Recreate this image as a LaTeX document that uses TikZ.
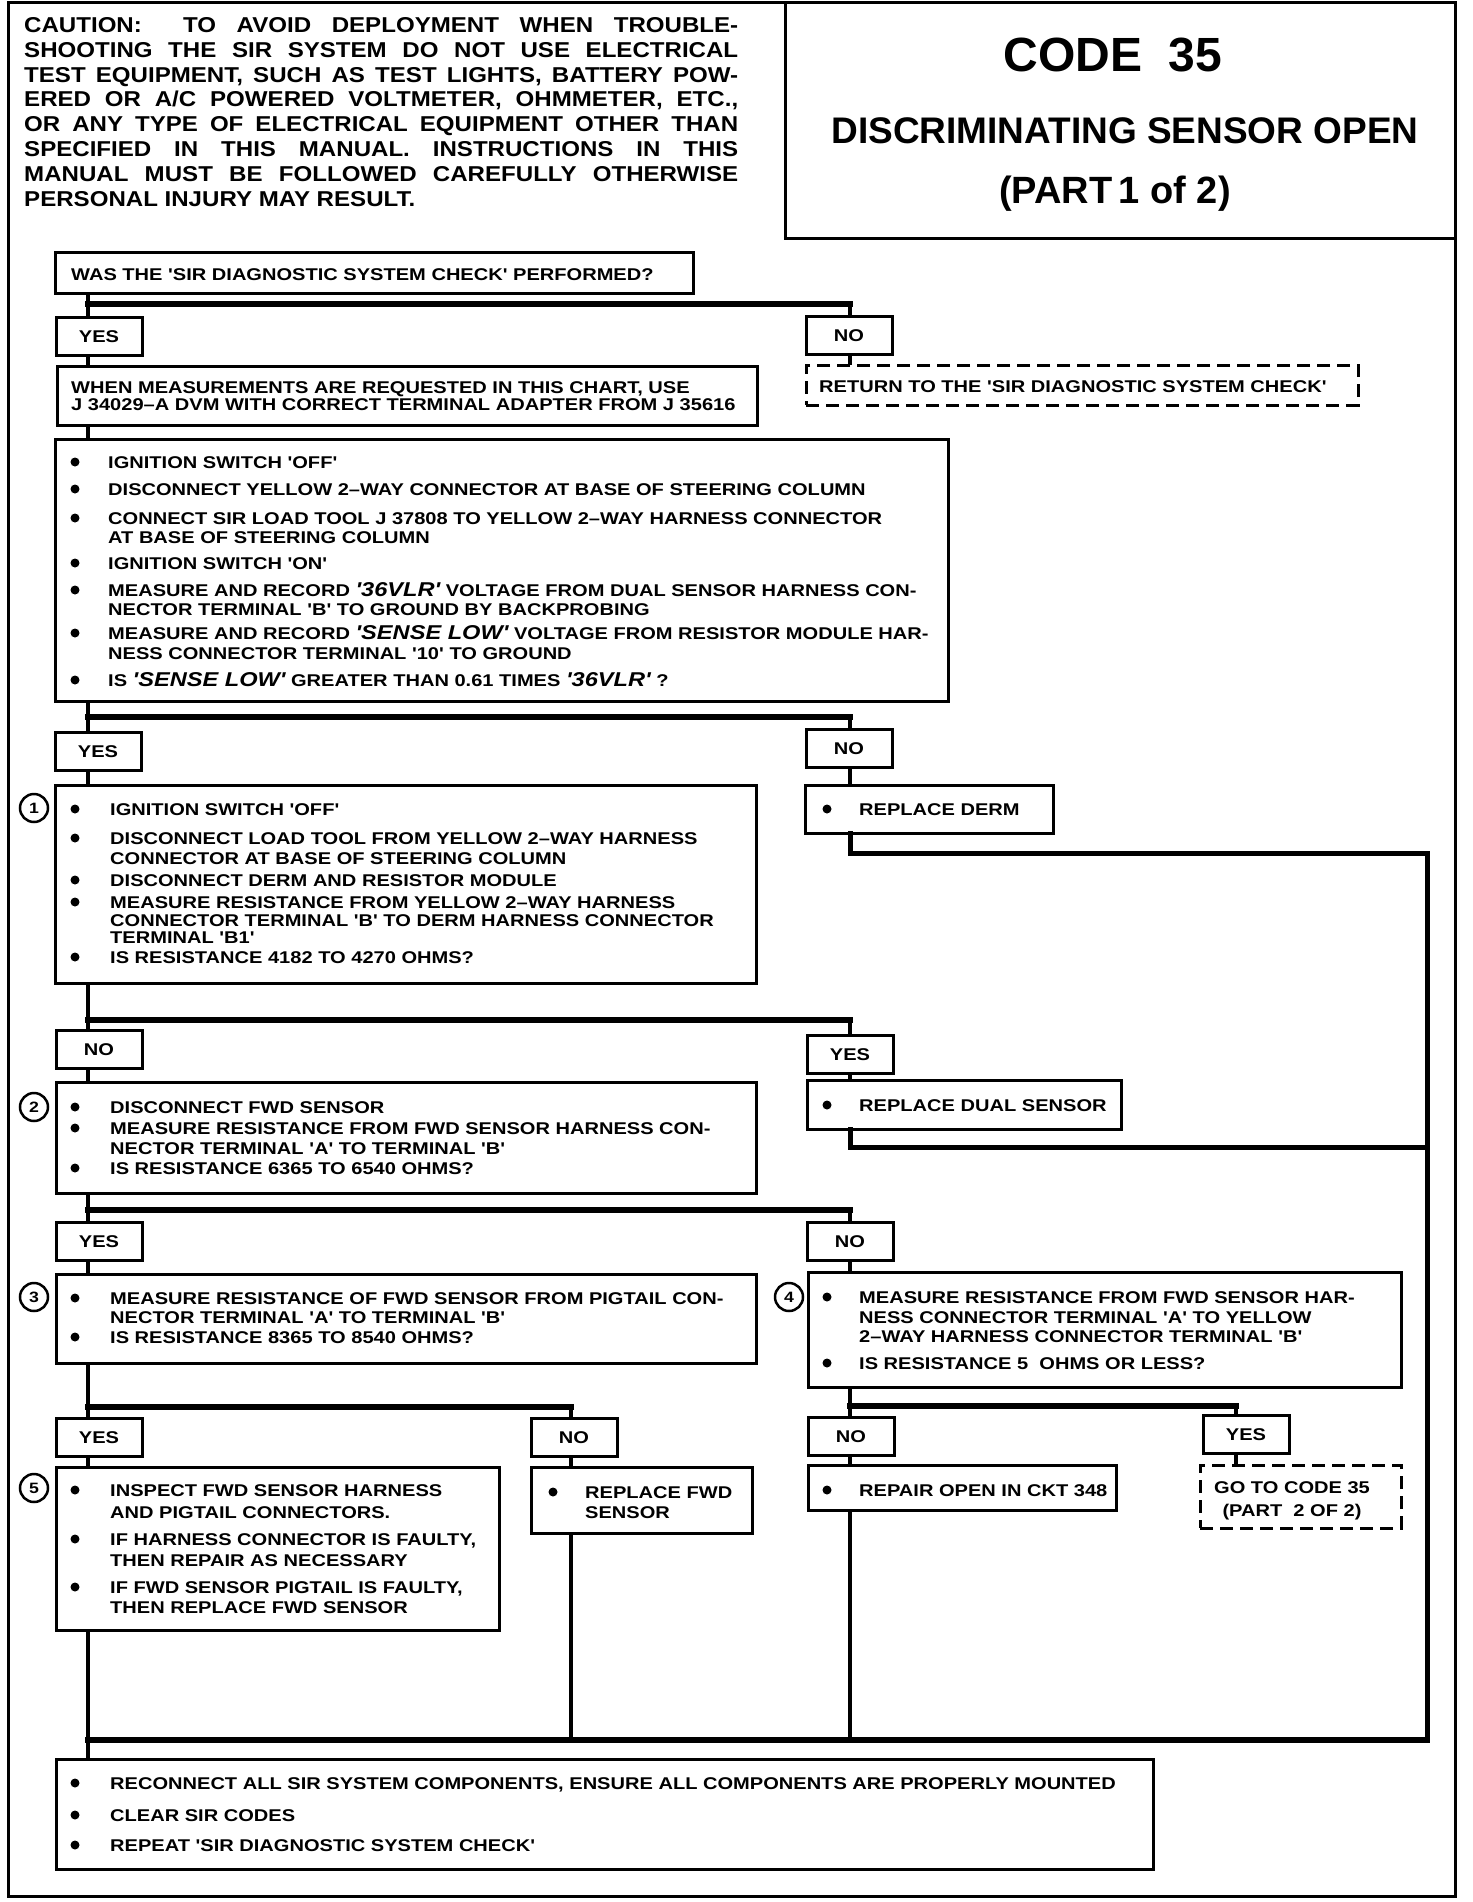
\documentclass[tikz,border=0pt]{standalone}
\usepackage{fontspec}
\setmainfont{Liberation Sans}
\newfontfamily\flowfont{Liberation Sans}[FakeStretch=1.18]
\newfontfamily\cautfont{Liberation Sans}[FakeStretch=1.12]
\newcommand\flowtxt{\flowfont\bfseries\fontsize{17}{20}\selectfont}
\newcommand\cauttxt{\cautfont\bfseries\fontsize{21.5}{24.9}\selectfont}
\newcommand\hl[1]{{\flowfont\bfseries\itshape\fontsize{20}{20}\selectfont #1}}
\newcommand\jl[1]{\makebox[714pt][s]{#1}}
\tikzset{
  box/.style={draw, line width=3pt, anchor=north west, inner sep=0pt, outer sep=0pt},
  dbox/.style={box, dash pattern=on 13pt off 7pt},
  ans/.style={box, minimum width=86pt, minimum height=38pt, font=\flowtxt, text height=12pt, text depth=0pt},
  txt/.style={font=\flowtxt, inner sep=0pt, anchor=west, text height=12pt, text depth=0pt},
  num/.style={circle, draw, line width=2.5pt, minimum size=28pt, inner sep=0pt, font=\flowfont\bfseries\fontsize{15}{15}\selectfont},
  stem/.style={line width=4pt},
  back/.style={line width=5pt, line cap=rect},
  bar/.style={line width=6pt, line cap=rect},
}
\begin{document}
\begin{tikzpicture}[x=1pt, y=-1pt]
\useasboundingbox (0,0) rectangle (1472,1902);
\node[box, minimum width=1447pt, minimum height=1893pt] (frame) at (8,3){};
\node[box, minimum width=670pt, minimum height=236pt] (head) at (785,3){};
\node[font=\cauttxt, inner sep=0pt, anchor=north west, align=left] (caution) at (24,17){%
\jl{CAUTION:\ \ TO AVOID DEPLOYMENT WHEN TROUBLE-}\\
\jl{SHOOTING THE SIR SYSTEM DO NOT USE ELECTRICAL}\\
\jl{TEST EQUIPMENT, SUCH AS TEST LIGHTS, BATTERY POW-}\\
\jl{ERED OR A/C POWERED VOLTMETER, OHMMETER, ETC.,}\\
\jl{OR ANY TYPE OF ELECTRICAL EQUIPMENT OTHER THAN}\\
\jl{SPECIFIED IN THIS MANUAL. INSTRUCTIONS IN THIS}\\
\jl{MANUAL MUST BE FOLLOWED CAREFULLY OTHERWISE}\\
PERSONAL INJURY MAY RESULT.};
\node[font=\bfseries\fontsize{48}{48}\selectfont, inner sep=0pt, text height=34pt, text depth=0pt] (code) at (1113,55){CODE\ \ 35};
\node[font=\bfseries\fontsize{37}{37}\selectfont, inner sep=0pt, text height=26.5pt, text depth=0pt] (disc) at (1125,130){DISCRIMINATING SENSOR OPEN};
\node[font=\bfseries\fontsize{38}{38}\selectfont, inner sep=0pt, text height=27pt, text depth=0pt] (part) at (1115,190){(PART\,1 of 2)};
\coordinate (lc) at (88,0);
\coordinate (mc) at (571,0);
\coordinate (rc) at (850,0);
\coordinate (fc) at (1236,0);
\node[box, minimum width=638pt, minimum height=40pt] (was) at (55,253){};
\node[txt] (wast) at (71,274){WAS THE 'SIR DIAGNOSTIC SYSTEM CHECK' PERFORMED?};
\node[ans] (yes1) at (56,317){YES};
\node[ans] (no1) at (806,316){NO};
\node[box, minimum width=700pt, minimum height=59pt] (when) at (57,366){};
\node[txt] (when1) at (71,387){WHEN MEASUREMENTS ARE REQUESTED IN THIS CHART, USE};
\node[txt] (when2) at (71,404){J 34029–A DVM WITH CORRECT TERMINAL ADAPTER FROM J 35616};
\node[dbox, minimum width=552pt, minimum height=40pt] (ret) at (806,365){};
\node[txt] (rett) at (819,386){RETURN TO THE 'SIR DIAGNOSTIC SYSTEM CHECK'};
\node[box, minimum width=893pt, minimum height=262pt] (ign) at (55,439){};
\node[txt] (ig1) at (108,462){IGNITION SWITCH 'OFF'};
\node[txt] (ig2) at (108,489){DISCONNECT YELLOW 2–WAY CONNECTOR AT BASE OF STEERING COLUMN};
\node[txt] (ig3) at (108,518){CONNECT SIR LOAD TOOL J 37808 TO YELLOW 2–WAY HARNESS CONNECTOR};
\node[txt] (ig4) at (108,537){AT BASE OF STEERING COLUMN};
\node[txt] (ig5) at (108,563){IGNITION SWITCH 'ON'};
\node[txt] (ig6) at (108,590){MEASURE AND RECORD \hl{'36VLR'} VOLTAGE FROM DUAL SENSOR HARNESS CON-};
\node[txt] (ig7) at (108,609){NECTOR TERMINAL 'B' TO GROUND BY BACKPROBING};
\node[txt] (ig8) at (108,633){MEASURE AND RECORD \hl{'SENSE LOW'} VOLTAGE FROM RESISTOR MODULE HAR-};
\node[txt] (ig9) at (108,653){NESS CONNECTOR TERMINAL '10' TO GROUND};
\node[txt] (ig10) at (108,680){IS \hl{'SENSE LOW'} GREATER THAN 0.61 TIMES \hl{'36VLR'} ?};
\foreach \y in {462,489,518,563,590,633,680} \fill (75,\y) circle[radius=4.5pt];
\node[ans] (yes2) at (55,732){YES};
\node[ans] (no2) at (806,729){NO};
\node[box, minimum width=701pt, minimum height=198pt] (b1) at (55,785){};
\node[num] (n1) at (34,808){1};
\node[txt] (b1a) at (110,809){IGNITION SWITCH 'OFF'};
\node[txt] (b1b) at (110,838){DISCONNECT LOAD TOOL FROM YELLOW 2–WAY HARNESS};
\node[txt] (b1c) at (110,858){CONNECTOR AT BASE OF STEERING COLUMN};
\node[txt] (b1d) at (110,880){DISCONNECT DERM AND RESISTOR MODULE};
\node[txt] (b1e) at (110,902){MEASURE RESISTANCE FROM YELLOW 2–WAY HARNESS};
\node[txt] (b1f) at (110,920){CONNECTOR TERMINAL 'B' TO DERM HARNESS CONNECTOR};
\node[txt] (b1g) at (110,937){TERMINAL 'B1'};
\node[txt] (b1h) at (110,957){IS RESISTANCE 4182 TO 4270 OHMS?};
\foreach \y in {809,838,880,902,957} \fill (75,\y) circle[radius=4.5pt];
\node[box, minimum width=248pt, minimum height=48pt] (derm) at (805,785){};
\node[txt] (dermt) at (859,809){REPLACE DERM};
\fill (827,809) circle[radius=4.5pt];
\node[ans] (no3) at (56,1030){NO};
\node[ans] (yes3) at (807,1035){YES};
\node[box, minimum width=700pt, minimum height=111pt] (b2) at (56,1082){};
\node[num] (n2) at (34,1107){2};
\node[txt] (b2a) at (110,1107){DISCONNECT FWD SENSOR};
\node[txt] (b2b) at (110,1128){MEASURE RESISTANCE FROM FWD SENSOR HARNESS CON-};
\node[txt] (b2c) at (110,1148){NECTOR TERMINAL 'A' TO TERMINAL 'B'};
\node[txt] (b2d) at (110,1168){IS RESISTANCE 6365 TO 6540 OHMS?};
\foreach \y in {1107,1128,1168} \fill (75,\y) circle[radius=4.5pt];
\node[box, minimum width=314pt, minimum height=49pt] (dual) at (807,1080){};
\node[txt] (dualt) at (859,1105){REPLACE DUAL SENSOR};
\fill (827,1105) circle[radius=4.5pt];
\node[ans] (yes4) at (56,1222){YES};
\node[ans] (no4) at (807,1222){NO};
\node[box, minimum width=700pt, minimum height=89pt] (b3) at (56,1274){};
\node[num] (n3) at (34,1297){3};
\node[txt] (b3a) at (110,1298){MEASURE RESISTANCE OF FWD SENSOR FROM PIGTAIL CON-};
\node[txt] (b3b) at (110,1317){NECTOR TERMINAL 'A' TO TERMINAL 'B'};
\node[txt] (b3c) at (110,1337){IS RESISTANCE 8365 TO 8540 OHMS?};
\foreach \y in {1298,1337} \fill (75,\y) circle[radius=4.5pt];
\node[box, minimum width=593pt, minimum height=115pt] (b4) at (808,1272){};
\node[num] (n4) at (789,1297){4};
\node[txt] (b4a) at (859,1297){MEASURE RESISTANCE FROM FWD SENSOR HAR-};
\node[txt] (b4b) at (859,1317){NESS CONNECTOR TERMINAL 'A' TO YELLOW};
\node[txt] (b4c) at (859,1336){2–WAY HARNESS CONNECTOR TERMINAL 'B'};
\node[txt] (b4d) at (859,1363){IS RESISTANCE 5\ \ OHMS OR LESS?};
\foreach \y in {1297,1363} \fill (827,\y) circle[radius=4.5pt];
\node[ans] (yes5) at (56,1418){YES};
\node[ans] (no5) at (531,1418){NO};
\node[ans] (no6) at (808,1417){NO};
\node[ans] (yes6) at (1203,1415){YES};
\node[box, minimum width=443pt, minimum height=163pt] (b5) at (56,1467){};
\node[num] (n5) at (34,1488){5};
\node[txt] (b5a) at (110,1490){INSPECT FWD SENSOR HARNESS};
\node[txt] (b5b) at (110,1512){AND PIGTAIL CONNECTORS.};
\node[txt] (b5c) at (110,1539){IF HARNESS CONNECTOR IS FAULTY,};
\node[txt] (b5d) at (110,1560){THEN REPAIR AS NECESSARY};
\node[txt] (b5e) at (110,1587){IF FWD SENSOR PIGTAIL IS FAULTY,};
\node[txt] (b5f) at (110,1607){THEN REPLACE FWD SENSOR};
\foreach \y in {1490,1539,1587} \fill (75,\y) circle[radius=4.5pt];
\node[box, minimum width=221pt, minimum height=66pt] (fwd) at (531,1467){};
\node[txt] (fwda) at (585,1492){REPLACE FWD};
\node[txt] (fwdb) at (585,1512){SENSOR};
\fill (553,1492) circle[radius=4.5pt];
\node[box, minimum width=308pt, minimum height=45pt] (rep) at (808,1465){};
\node[txt] (rept) at (859,1490){REPAIR OPEN IN CKT 348};
\fill (827,1490) circle[radius=4.5pt];
\node[dbox, minimum width=201pt, minimum height=63pt] (goto) at (1200,1465){};
\node[txt, anchor=center] (gota) at (1292,1487){GO TO CODE 35};
\node[txt, anchor=center] (gotb) at (1292,1510){(PART\ \ 2 OF 2)};
\node[box, minimum width=1097pt, minimum height=110pt] (fin) at (56,1759){};
\node[txt] (fina) at (110,1783){RECONNECT ALL SIR SYSTEM COMPONENTS, ENSURE ALL COMPONENTS ARE PROPERLY MOUNTED};
\node[txt] (finb) at (110,1815){CLEAR SIR CODES};
\node[txt] (finc) at (110,1845){REPEAT 'SIR DIAGNOSTIC SYSTEM CHECK'};
\foreach \y in {1783,1815,1845} \fill (75,\y) circle[radius=4.5pt];
\coordinate (sA) at (88,304);
\draw[stem] (was.south -| lc) -- (yes1.north -| lc);
\draw[bar] (sA) -- (sA -| rc);
\draw[stem] (sA -| rc) -- (no1.north -| rc);
\draw[stem] (yes1.south -| lc) -- (when.north -| lc);
\draw[stem] (no1.south -| rc) -- (ret.north -| rc);
\draw[stem] (when.south -| lc) -- (ign.north -| lc);
\coordinate (sB) at (88,717);
\draw[stem] (ign.south -| lc) -- (yes2.north -| lc);
\draw[bar] (sB) -- (sB -| rc);
\draw[stem] (sB -| rc) -- (no2.north -| rc);
\draw[stem] (yes2.south -| lc) -- (b1.north -| lc);
\draw[stem] (no2.south -| rc) -- (derm.north -| rc);
\coordinate (rt) at (1427,853);
\coordinate (rm) at (1427,1147);
\coordinate (rb) at (1427,1740);
\draw[back] (derm.south -| rc) |- (rt) -- (rb);
\coordinate (sC) at (88,1020);
\draw[stem] (b1.south -| lc) -- (no3.north -| lc);
\draw[bar] (sC) -- (sC -| rc);
\draw[stem] (sC -| rc) -- (yes3.north -| rc);
\draw[stem] (no3.south -| lc) -- (b2.north -| lc);
\draw[stem] (yes3.south -| rc) -- (dual.north -| rc);
\draw[back] (dual.south -| rc) |- (rm);
\coordinate (sD) at (88,1210);
\draw[stem] (b2.south -| lc) -- (yes4.north -| lc);
\draw[bar] (sD) -- (sD -| rc);
\draw[stem] (sD -| rc) -- (no4.north -| rc);
\draw[stem] (yes4.south -| lc) -- (b3.north -| lc);
\draw[stem] (no4.south -| rc) -- (b4.north -| rc);
\coordinate (sE) at (88,1407);
\draw[stem] (b3.south -| lc) -- (yes5.north -| lc);
\draw[bar] (sE) -- (sE -| mc);
\draw[stem] (sE -| mc) -- (no5.north -| mc);
\coordinate (sF) at (850,1406);
\draw[stem] (b4.south -| rc) -- (no6.north -| rc);
\draw[bar] (sF) -- (sF -| fc);
\draw[stem] (sF -| fc) -- (yes6.north -| fc);
\draw[stem] (yes5.south -| lc) -- (b5.north -| lc);
\draw[stem] (no5.south -| mc) -- (fwd.north -| mc);
\draw[stem] (no6.south -| rc) -- (rep.north -| rc);
\draw[stem] (yes6.south -| fc) -- (goto.north -| fc);
\coordinate (sG) at (88,1740);
\draw[stem] (b5.south -| lc) -- (fin.north -| lc);
\draw[stem] (fwd.south -| mc) -- (sG -| mc);
\draw[stem] (rep.south -| rc) -- (sG -| rc);
\draw[bar] (sG) -- (rb);
\end{tikzpicture}
\end{document}
